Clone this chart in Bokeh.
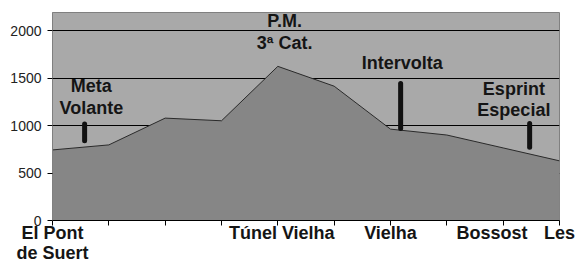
from bokeh.plotting import figure
from bokeh.models import FixedTicker, Range1d, ColumnDataSource
from bokeh.core.properties import value
from bokeh.embed import file_html
from bokeh.resources import INLINE

# Elevation profile (m) at each stage point
positions = [0, 1, 2, 3, 4, 5, 6, 7, 8, 9]
elevation = [743, 796, 1078, 1050, 1623, 1414, 962, 900, 764, 628]

# x-axis labels
label_pos = [0, 4.07, 6, 7.8, 9]
label_txt = ["El Pont\nde Suert", "Túnel Vielha", "Vielha", "Bossost", "Les"]

# Vertical markers (intermediate points)
mark_x = [0.57, 6.18, 8.47]
mark_top = [1015, 1442, 1022]
mark_bottom = [840, 968, 770]

# Annotation texts (one row per line)
note_x = [0.69, 0.69, 4.12, 4.12, 6.21, 8.19, 8.19]
note_y = [1414, 1188, 2105, 1874, 1654, 1382, 1162]
note_txt = ["Meta", "Volante", "P.M.", "3ª Cat.", "Intervolta", "Esprint", "Especial"]

y_ticks = [0, 500, 1000, 1500, 2000]

p = figure(width=584, height=265, output_backend="svg", toolbar_location=None,
           x_range=Range1d(0, 9), y_range=Range1d(0, 2190),
           min_border_left=52, min_border_right=25, min_border_top=12, min_border_bottom=0)

p.background_fill_color = "#a9a9a9"
p.border_fill_color = "white"
p.outline_line_color = "#808080"
p.outline_line_width = 1

# area
p.varea(x=positions, y1=[0] * len(positions), y2=elevation, fill_color="#868686")
p.line(x=positions, y=elevation, line_color="#2a2a2a", line_width=1)

# markers
p.segment(x0=mark_x, y0=mark_bottom, x1=mark_x, y1=mark_top,
          line_color="#111111", line_width=5, line_cap="round")

# notes
src = ColumnDataSource(dict(x=note_x, y=note_y, t=note_txt))
p.text(x="x", y="y", text="t", source=src, text_font=value("Liberation Sans"),
       text_font_style="bold", text_font_size="18px", text_color="#151515",
       text_align="center", text_baseline="middle")

# grid
p.xgrid.grid_line_color = None
p.ygrid.ticker = FixedTicker(ticks=y_ticks[1:])
p.ygrid.grid_line_color = "black"
p.ygrid.grid_line_alpha = 1.0
p.ygrid.grid_line_width = 1
p.ygrid.level = "underlay"

# y axis
p.yaxis.ticker = FixedTicker(ticks=y_ticks)
p.yaxis.axis_line_color = "#808080"
p.yaxis.major_tick_line_color = "black"
p.yaxis.major_tick_out = 5
p.yaxis.major_tick_in = 0
p.yaxis.minor_tick_line_color = None
p.yaxis.major_label_text_font = "Liberation Sans"
p.yaxis.major_label_text_font_size = "14px"
p.yaxis.major_label_text_color = "#222222"
p.yaxis.major_label_standoff = 6

# x axis
p.xaxis.ticker = FixedTicker(ticks=label_pos, minor_ticks=positions)
p.xaxis.major_label_overrides = {lp: lt for lp, lt in zip(label_pos, label_txt)}
p.xaxis.axis_line_color = "black"
p.xaxis.axis_line_width = 1
p.xaxis.major_tick_line_color = None
p.xaxis.major_tick_out = 0
p.xaxis.major_tick_in = 0
p.xaxis.minor_tick_line_color = "black"
p.xaxis.minor_tick_out = 5
p.xaxis.minor_tick_in = 0
p.xaxis.major_label_text_font = "Liberation Sans"
p.xaxis.major_label_text_font_style = "bold"
p.xaxis.major_label_text_font_size = "18px"
p.xaxis.major_label_text_color = "#151515"
p.xaxis.major_label_text_line_height = 1.0
p.xaxis.major_label_standoff = -3

open("out.html", "w").write(file_html(p, INLINE))
